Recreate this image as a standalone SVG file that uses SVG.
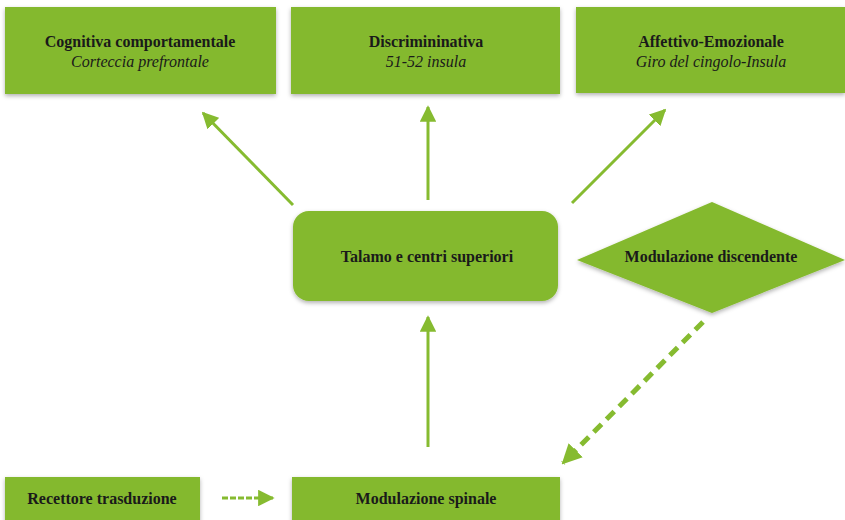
<svg xmlns="http://www.w3.org/2000/svg" width="845" height="520" viewBox="0 0 845 520">
<defs>
<style>
.n{fill:#84b92d;}
.t{font-family:"Liberation Serif",serif;font-size:16px;fill:#1a1a1a;text-anchor:middle;}
.b{font-weight:bold;}
.i{font-style:italic;}
.c{stroke:#86bb30;stroke-width:3;fill:none;}
.d{stroke:#86bb30;stroke-width:5;fill:none;stroke-dasharray:11 7;}
</style>
<filter id="sh" x="-10%" y="-10%" width="120%" height="130%">
<feDropShadow dx="0" dy="2" stdDeviation="2" flood-color="#000" flood-opacity="0.3"/>
</filter>
<marker id="ah" viewBox="0 0 10 10" refX="9" refY="5" markerWidth="5.5" markerHeight="5.5" orient="auto" markerUnits="strokeWidth">
<path d="M0,0 L10,5 L0,10 z" fill="#86bb30"/>
</marker>
<marker id="ah2" viewBox="0 0 10 10" refX="9" refY="5" markerWidth="4" markerHeight="4" orient="auto" markerUnits="strokeWidth">
<path d="M0,0 L10,5 L0,10 z" fill="#86bb30"/>
</marker>
</defs>
<rect width="845" height="520" fill="#fff"/>
<g id="connectors">
<line class="c" x1="293" y1="205" x2="203" y2="113" marker-end="url(#ah)"/>
<line class="c" x1="428" y1="200" x2="428" y2="107" marker-end="url(#ah)"/>
<line class="c" x1="572" y1="203" x2="665" y2="110" marker-end="url(#ah)"/>
<line class="c" x1="428" y1="447" x2="428" y2="317" marker-end="url(#ah)"/>
<line class="d" x1="703" y1="322" x2="563" y2="463" marker-end="url(#ah2)"/>
<line class="c" x1="222" y1="498" x2="273" y2="498" stroke-dasharray="6 2" marker-end="url(#ah)"/>
</g>
<g id="n1"><rect class="n" x="5" y="7" width="271" height="87" filter="url(#sh)"/>
<text class="t b" x="140" y="47">Cognitiva comportamentale</text>
<text class="t i" x="140" y="67">Corteccia prefrontale</text></g>
<g id="n2"><rect class="n" x="291" y="7" width="269" height="87" filter="url(#sh)"/>
<text class="t b" x="426" y="47">Discrimininativa</text>
<text class="t i" x="426" y="67">51-52 insula</text></g>
<g id="n3"><rect class="n" x="576" y="7" width="269" height="86" filter="url(#sh)"/>
<text class="t b" x="711" y="47">Affettivo-Emozionale</text>
<text class="t i" x="711" y="67">Giro del cingolo-Insula</text></g>
<g id="n4"><rect class="n" x="293" y="211" width="265" height="90" rx="16" filter="url(#sh)"/>
<text class="t b" x="427" y="262">Talamo e centri superiori</text></g>
<g id="n5"><polygon class="n" points="577,260 712,202 845,260 712,313" filter="url(#sh)"/>
<text class="t b" x="711" y="262">Modulazione discendente</text></g>
<g id="n6"><rect class="n" x="5" y="477" width="195" height="48" filter="url(#sh)"/>
<text class="t b" x="102" y="504">Recettore trasduzione</text></g>
<g id="n7"><rect class="n" x="292" y="477" width="268" height="48" filter="url(#sh)"/>
<text class="t b" x="426" y="504">Modulazione spinale</text></g>
</svg>
